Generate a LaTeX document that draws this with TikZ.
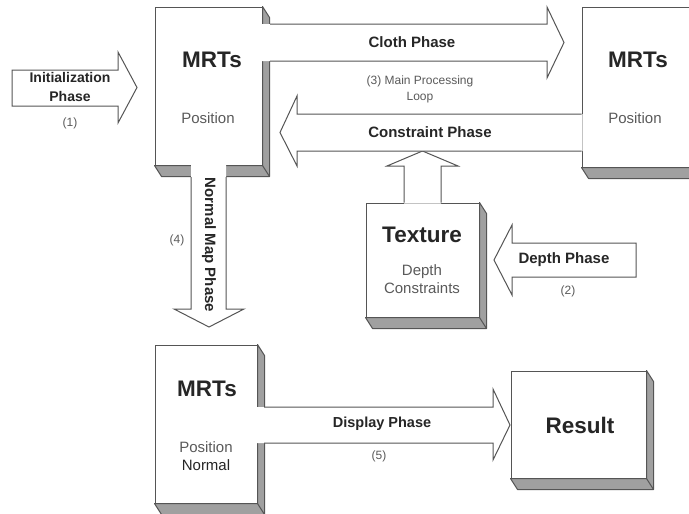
\documentclass[tikz,border=0pt]{standalone}
\usepackage{fontspec}
\setmainfont{Liberation Sans}
\usetikzlibrary{calc}
\definecolor{edgegray}{HTML}{555555}
\definecolor{sidegray}{HTML}{A0A0A0}
\definecolor{inkgray}{HTML}{5A5A5A}

\tikzset{
  box/.style={draw=edgegray, fill=white, line width=1pt, inner sep=0pt},
  blockline/.style={draw=edgegray, line width=1pt, line join=miter},
  title/.style={font=\fontsize{22.5}{26}\selectfont\bfseries, text=black!85},
  phase/.style={font=\fontsize{15}{19}\selectfont\bfseries, text=black!85, align=center},
  sub/.style={font=\fontsize{15}{18}\selectfont, text=inkgray, align=center},
  note/.style={font=\fontsize{12}{16}\selectfont, text=inkgray, align=center},
}
% grey side faces of a box node
\newcommand{\sidefaces}[1]{%
  \filldraw[fill=sidegray, draw=edgegray, line width=1pt, line join=round]
    (#1.north east) -- ++(7,11) -- ($(#1.south east)+(7,11)$) -- ($(#1.south west)+(7,11)$)
    -- (#1.south west) -- (#1.south east) -- cycle;
  \draw[edgegray, line width=1pt] (#1.south east) -- ++(7,11);
}

\begin{document}
\begin{tikzpicture}[x=1pt, y=-1pt]
  \fill[white] (0,0) rectangle (689,514);
  \useasboundingbox (0,0) rectangle (689,514);

  % boxes
  \node[box, minimum width=107pt, minimum height=158pt] (mrtA) at (208.5,86) {};
  \node[box, minimum width=108pt, minimum height=160pt] (mrtB) at (636,87) {};
  \node[box, minimum width=113pt, minimum height=114pt] (tex) at (422.5,260) {};
  \node[box, minimum width=102pt, minimum height=158pt] (mrtC) at (206,424) {};
  \node[box, minimum width=135pt, minimum height=107pt] (res) at (578.5,424.5) {};
  \foreach \b in {mrtA,mrtB,tex,mrtC,res}{\sidefaces{\b}}

  % (1) initialization
  \filldraw[fill=white, blockline] (12,70) -- (118,70) -- (118,52) -- (137,87.5) -- (118,123) -- (118,106) -- (12,106) -- cycle;

  % (3) cloth phase
  \fill[white] ($(mrtA.east|-0,24)-(1,0)$) -- (547,24) -- (547,7) -- (564,42.5) -- (547,78) -- (547,61) -- ($(mrtA.east|-0,61)-(1,0)$) -- cycle;
  \draw[blockline] (270,24) -- (547,24) -- (547,7) -- (564,42.5) -- (547,78) -- (547,61) -- (270,61);

  % texture up into constraint phase
  \fill[white] ($(404,0|-tex.north)+(0,1)$) -- (404,166) -- (387,166) -- (422.5,151) -- (458,166) -- (441,166) -- ($(441,0|-tex.north)+(0,1)$) -- cycle;
  \draw[blockline] (404,0|-tex.north) -- (404,166) -- (387,166) -- (422.5,151) -- (458,166) -- (441,166) -- (441,0|-tex.north);

  % constraint phase
  \fill[white] ($(mrtB.west|-0,114)+(1,0)$) -- (297,114) -- (297,96) -- (280,132.5) -- (297,166) -- (297,151) -- ($(mrtB.west|-0,151)+(1,0)$) -- cycle;
  \draw[blockline] (mrtB.west|-0,114) -- (297,114) -- (297,96) -- (280,132.5) -- (297,166) -- (297,151) -- (mrtB.west|-0,151);

  % (2) depth phase
  \filldraw[fill=white, blockline] (636,243) -- (512,243) -- (512,225) -- (494,260) -- (512,295) -- (512,277) -- (636,277) -- cycle;

  % (4) normal map phase
  \fill[white] ($(191,0|-mrtA.south)-(0,1)$) -- (191,309) -- (174,309) -- (209,327) -- (244,309) -- (226,309) -- ($(226,0|-mrtA.south)-(0,1)$) -- cycle;
  \draw[blockline] (191,177) -- (191,309) -- (174,309) -- (209,327) -- (244,309) -- (226,309) -- (226,177);

  % (5) display phase
  \fill[white] ($(mrtC.east|-0,407)-(1,0)$) -- (493,407) -- (493,389) -- (510,425) -- (493,460) -- (493,443) -- ($(mrtC.east|-0,443)-(1,0)$) -- cycle;
  \draw[blockline] (264,407) -- (493,407) -- (493,389) -- (510,425) -- (493,460) -- (493,443) -- (264,443);

  % texts
  \node[phase, font=\fontsize{14}{19}\selectfont\bfseries] (initlbl) at (70,87) {Initialization\\Phase};
  \node[note] (initnum) at (70,123) {(1)};
  \node[title] (mrtAt) at (212,60) {MRTs};
  \node[sub] (mrtAp) at (208,118) {Position};
  \node[phase] (clothlbl) at (412,42) {Cloth Phase};
  \node[note] (looplbl) at (420,89) {(3) Main Processing\\Loop};
  \node[phase] (conslbl) at (430,132) {Constraint Phase};
  \node[title] (mrtBt) at (638,60) {MRTs};
  \node[sub] (mrtBp) at (635,118) {Position};
  \node[phase, rotate=-90] (normlbl) at (209,245) {Normal Map Phase};
  \node[note] (normnum) at (177,240) {(4)};
  \node[title] (texlbl) at (422,235) {Texture};
  \node[sub] (texsub) at (422,279) {Depth\\Constraints};
  \node[phase] (depthlbl) at (564,260) {Depth Phase};
  \node[note] (depthnum) at (568,291) {(2)};
  \node[title] (mrtCt) at (207,389) {MRTs};
  \node[sub] (mrtCp) at (206,456) {Position\\\textcolor{black!85}{Normal}};
  \node[phase, font=\fontsize{14.5}{19}\selectfont\bfseries] (displbl) at (382,424) {Display Phase};
  \node[note] (dispnum) at (379,456) {(5)};
  \node[title] (reslbl) at (580,425) {Result};
\end{tikzpicture}
\end{document}
